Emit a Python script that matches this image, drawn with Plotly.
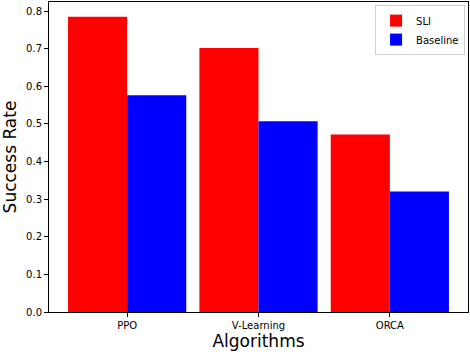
"""
Success rate per algorithm, SLI vs. baseline, as grouped bars
"""

import plotly.graph_objects as go

ALGORITHMS = ["PPO", "V-Learning", "ORCA"]
SLI_RATES = [0.785, 0.702, 0.472]
BASELINE_RATES = [0.576, 0.507, 0.320]
Y_TICKS = [0.0, 0.1, 0.2, 0.3, 0.4, 0.5, 0.6, 0.7, 0.8]

FONT = "DejaVu Sans"


def main():
  sli = go.Bar(
      x = ALGORITHMS,
      y = SLI_RATES,
      name = "SLI",
      marker = dict(color = "rgb(255,0,0)", line = dict(width = 0))
  )
  baseline = go.Bar(
      x = ALGORITHMS,
      y = BASELINE_RATES,
      name = "Baseline",
      marker = dict(color = "rgb(0,0,255)", line = dict(width = 0))
  )

  axis_common = dict(
      showline = True,
      linecolor = "black",
      linewidth = 1,
      mirror = True,
      ticks = "outside",
      ticklen = 4,
      tickwidth = 1,
      tickcolor = "black",
      showgrid = False,
      zeroline = False,
      tickfont = dict(family = FONT, size = 10, color = "black"),
  )

  fig = go.Figure(data = [sli, baseline])
  fig.update_layout(
      width = 470,
      height = 354,
      margin = dict(l = 49, r = 2, t = 2, b = 42),
      plot_bgcolor = "white",
      paper_bgcolor = "white",
      barmode = "group",
      bargap = 0.1,
      bargroupgap = 0,
      font = dict(family = FONT, color = "black"),
      xaxis = dict(
          axis_common,
          range = [-0.595, 2.595],
          title = dict(text = "Algorithms", font = dict(family = FONT, size = 17), standoff = 4),
      ),
      yaxis = dict(
          axis_common,
          range = [0, 0.824],
          tickvals = Y_TICKS,
          tickformat = ".1f",
          title = dict(text = "Success Rate", font = dict(family = FONT, size = 17), standoff = 6),
      ),
      legend = dict(
          x = 0.993,
          y = 0.99,
          xanchor = "right",
          yanchor = "top",
          bgcolor = "rgba(255,255,255,0.8)",
          bordercolor = "#d0d0d0",
          borderwidth = 1,
          font = dict(family = FONT, size = 10),
          tracegroupgap = 0,
      ),
  )

  # drop the page's default body margin so the figure sits at the top-left
  fig.write_html("out.html",
                 config = dict(displayModeBar = False),
                 post_script = "document.body.style.margin = '0';")


if __name__ == "__main__":
  main()
